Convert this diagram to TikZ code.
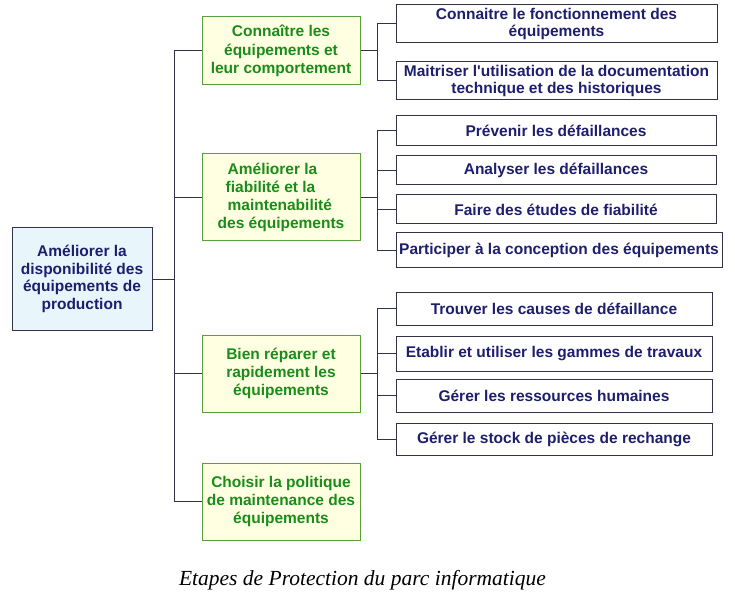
\documentclass[tikz,border=0pt]{standalone}
\usepackage{fontspec}
\setsansfont{Liberation Sans}
\setmainfont{Liberation Serif}

\definecolor{navy}{RGB}{30,30,110}
\definecolor{rootfill}{RGB}{232,246,252}
\definecolor{rootline}{RGB}{50,50,80}
\definecolor{stagefill}{RGB}{255,255,226}
\definecolor{stageline}{RGB}{90,160,60}
\definecolor{stagetext}{RGB}{25,140,25}
\definecolor{taskline}{RGB}{50,50,70}
\definecolor{linkcol}{RGB}{50,50,70}

\begin{document}
\begin{tikzpicture}[x=1pt,y=-1pt,
        boxfont/.style={font=\sffamily\bfseries\fontsize{15.5}{17.5}\selectfont},
        rootbox/.style={boxfont, draw=rootline, fill=rootfill, text=navy, align=center, line width=1pt, inner sep=0pt},
        stagebox/.style={font=\sffamily\bfseries\fontsize{15.5}{18.2}\selectfont, draw=stageline, fill=stagefill, text=stagetext, align=center, line width=1pt, minimum width=158pt, inner sep=0pt},
        taskbox/.style={boxfont, draw=taskline, fill=white, text=navy, align=center, line width=1pt, inner sep=0pt},
        link/.style={draw=linkcol, line width=1pt}]
    \useasboundingbox (0,0) rectangle (735,601);

    % root
    \node[rootbox, minimum width=140pt, minimum height=102pt] (root) at (82,279)
        {Améliorer la\\disponibilité des\\équipements de\\production};

    % stages
    \node[stagebox, minimum height=68pt] (c1) at (281,51) {Connaître les\\équipements et\\leur comportement};
    \node[stagebox, minimum height=87pt, align=left] (c2) at (281,197.5)
        {\hspace*{10pt}Améliorer la\\\hspace*{8pt}fiabilité et la\\\hspace*{10pt}maintenabilité\\des équipements};
    \node[stagebox, minimum height=77pt] (c3) at (281,373.5) {Bien réparer et\\rapidement les\\équipements};
    \node[stagebox, minimum height=77pt] (c4) at (281,501.5) {Choisir la politique\\de maintenance des\\équipements};

    % tasks
    \foreach \n/\x/\y/\w/\h/\t in {
        c1a/556.5/24/321/38/{Connaitre le fonctionnement des\\équipements},
        c1b/556.5/81/321/38/{Maitriser l\textquotesingle utilisation de la documentation\\technique et des historiques},
        c2a/556/131/320/30/{Prévenir les défaillances},
        c2b/556/170.5/320/29/{Analyser les défaillances},
        c2c/556/209.5/320/29/{Faire des études de fiabilité},
        c2d/559/250.5/326/35/{Participer à la conception des équipements},
        c3a/554/308.5/316/33/{Trouver les causes de défaillance},
        c3b/554/353.5/316/35/{Etablir et utiliser les gammes de travaux},
        c3c/554/395.5/316/33/{Gérer les ressources humaines},
        c3d/554/439/316/32/{Gérer le stock de pièces de rechange}}{
        \node[taskbox, minimum width=\w pt, minimum height=\h pt] (\n) at (\x,\y) {\t};
    }

    % connectors
    \coordinate (trunk) at (174,279);
    \draw[link] (root.east) -- (trunk);
    \foreach \c in {c1,c2,c3,c4}
        \draw[link] (\c.west) -| (trunk);

    \coordinate (g1) at (377,51);
    \coordinate (g2) at (377,197.5);
    \coordinate (g3) at (377,373.5);
    \draw[link] (c1.east) -- (g1);
    \draw[link] (c2.east) -- (g2);
    \draw[link] (c3.east) -- (g3);
    \foreach \t in {c1a,c1b}
        \draw[link] (\t.west) -| (g1);
    \foreach \t in {c2a,c2b,c2c,c2d}
        \draw[link] (\t.west) -| (g2);
    \foreach \t in {c3a,c3b,c3c,c3d}
        \draw[link] (\t.west) -| (g3);

    % caption
    \node[font=\rmfamily\itshape\fontsize{21.5}{24}\selectfont] (caption) at (362.5,580)
        {Etapes de Protection du parc informatique};
\end{tikzpicture}
\end{document}
